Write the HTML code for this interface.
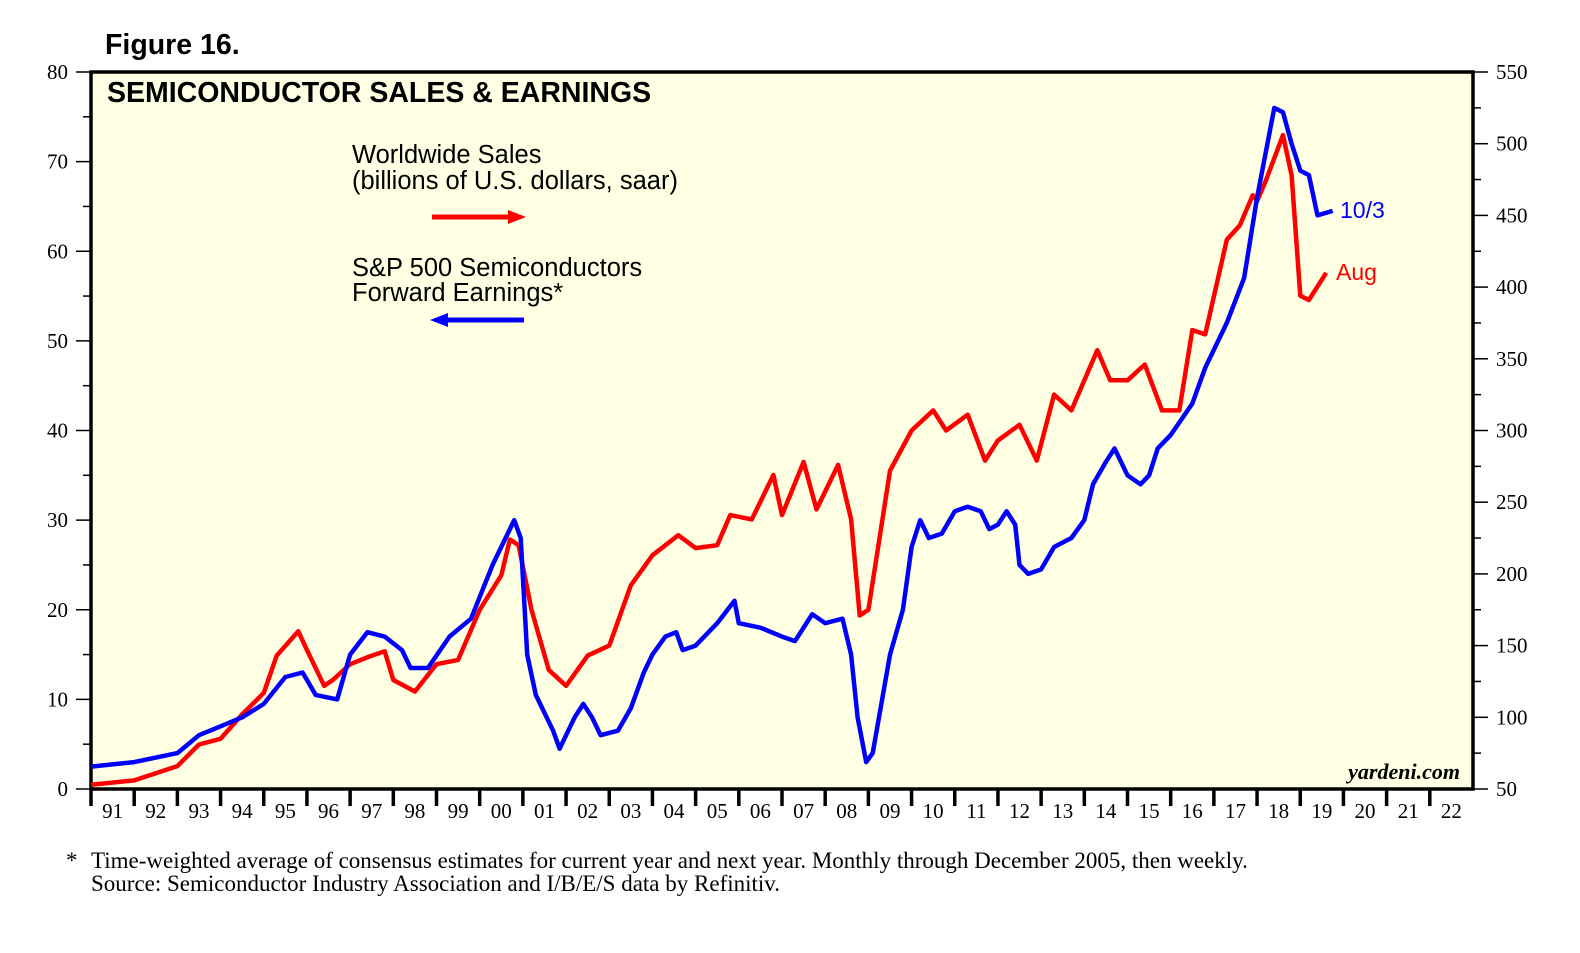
<!DOCTYPE html>
<html><head><meta charset="utf-8"><style>
body{margin:0;background:#fff;}
svg{display:block;}
</style></head><body>
<svg id="chart" width="1580" height="953" xmlns="http://www.w3.org/2000/svg">
<text x="105" y="54" font-family="Liberation Sans, sans-serif" font-weight="bold" font-size="28.5">Figure 16.</text>
<rect x="91" y="72" width="1382" height="717" fill="#ffffe3" stroke="#000" stroke-width="3.5"/>
<g id="axes"></g>
<g id="series"></g>
<text x="107" y="102" font-family="Liberation Sans, sans-serif" font-weight="bold" font-size="28.5">SEMICONDUCTOR SALES &amp; EARNINGS</text>
<g font-family="Liberation Sans, sans-serif" font-size="25.5">
<text x="352" y="163">Worldwide Sales</text>
<text x="352" y="189">(billions of U.S. dollars, saar)</text>
<line x1="432" y1="217" x2="510" y2="217" stroke="#f00" stroke-width="5"/>
<polygon points="508,210 526,217 508,224" fill="#f00"/>
<text x="352" y="276">S&amp;P 500 Semiconductors</text>
<text x="352" y="301">Forward Earnings*</text>
<line x1="446" y1="320" x2="524" y2="320" stroke="#00f" stroke-width="5"/>
<polygon points="448,313 430,320 448,327" fill="#00f"/>
</g>
<text x="1340" y="218" fill="#00f" font-family="Liberation Sans, sans-serif" font-size="23">10/3</text>
<text x="1336" y="280" fill="#f00" font-family="Liberation Sans, sans-serif" font-size="23">Aug</text>
<text x="1460" y="779" text-anchor="end" font-family="Liberation Serif, serif" font-style="italic" font-weight="bold" font-size="22">yardeni.com</text>
<g font-family="Liberation Serif, serif" font-size="23">
<text x="66" y="868">*</text>
<text x="91" y="868">Time-weighted average of consensus estimates for current year and next year. Monthly through December 2005, then weekly.</text>
<text x="91" y="891">Source:  Semiconductor Industry Association and I/B/E/S data by Refinitiv.</text>
</g>
</svg>
<script>
const salesT=[1991.0,1992.0,1993.0,1993.5,1994.0,1994.5,1995.0,1995.3,1995.8,1996.0,1996.4,1996.6,1997.0,1997.5,1997.8,1998.0,1998.5,1999.0,1999.5,2000.0,2000.5,2000.7,2000.9,2001.2,2001.6,2002.0,2002.5,2003.0,2003.5,2004.0,2004.6,2005.0,2005.5,2005.8,2006.3,2006.8,2007.0,2007.5,2007.8,2008.3,2008.6,2008.8,2009.0,2009.5,2010.0,2010.5,2010.8,2011.3,2011.7,2012.0,2012.5,2012.9,2013.3,2013.7,2014.3,2014.6,2015.0,2015.4,2015.8,2016.2,2016.5,2016.8,2017.3,2017.6,2017.9,2018.0,2018.2,2018.6,2018.8,2019.0,2019.2,2019.6];
const salesV=[53,56,66,81,85,102,117,143,160,147,122,126,137,143,146,126,118,137,140,175,199,224,220,175,133,122,143,150,192,213,227,218,220,241,238,269,241,278,245,276,238,171,175,272,300,314,300,311,279,293,304,279,325,314,356,335,335,346,314,314,370,367,433,443,464,460,474,506,478,394,391,410];
const earnT=[1991.0,1992.0,1993.0,1993.5,1994.0,1994.5,1995.0,1995.5,1995.9,1996.2,1996.7,1997.0,1997.4,1997.8,1998.2,1998.4,1998.8,1999.3,1999.8,2000.3,2000.7,2000.8,2000.95,2001.1,2001.3,2001.7,2001.85,2002.2,2002.4,2002.6,2002.8,2003.2,2003.5,2003.8,2004.0,2004.3,2004.55,2004.7,2005.0,2005.5,2005.9,2006.0,2006.5,2007.0,2007.3,2007.7,2008.0,2008.4,2008.6,2008.75,2008.95,2009.1,2009.5,2009.8,2010.0,2010.2,2010.4,2010.7,2011.0,2011.3,2011.6,2011.8,2012.0,2012.2,2012.4,2012.5,2012.7,2013.0,2013.3,2013.7,2014.0,2014.2,2014.5,2014.7,2015.0,2015.3,2015.5,2015.7,2016.0,2016.5,2016.8,2017.3,2017.7,2018.0,2018.2,2018.4,2018.6,2018.8,2019.0,2019.2,2019.4,2019.75];
const earnV=[2.5,3.0,4.0,6.0,7.0,8.0,9.5,12.5,13.0,10.5,10.0,15,17.5,17,15.5,13.5,13.5,17,19,25,29,30,28,15,10.5,6.5,4.5,8,9.5,8,6,6.5,9,13,15,17,17.5,15.5,16,18.5,21,18.5,18,17,16.5,19.5,18.5,19,15,8,3,4,15,20,27,30,28,28.5,31,31.5,31,29,29.5,31,29.5,25,24,24.5,27,28,30,34,36.5,38,35,34,35,38,39.5,43,47,52,57,66,71,76,75.5,72,69,68.5,64,64.5];
const leftTicks=[0,10,20,30,40,50,60,70,80];
const rightTicks=[50,100,150,200,250,300,350,400,450,500,550];
const yearLabels=["91","92","93","94","95","96","97","98","99","00","01","02","03","04","05","06","07","08","09","10","11","12","13","14","15","16","17","18","19","20","21","22"];
const NS="http://www.w3.org/2000/svg";
const X0=91,X1=1473,Y0=789,Y1=72;
const x=t=>X0+(t-1991)*(X1-X0)/32;
const yL=v=>Y0-v*(Y0-Y1)/80;
const yR=v=>Y0-(v-50)*(Y0-Y1)/500;
const axes=document.getElementById('axes'),series=document.getElementById('series');
function mk(tag,attrs,parent){const e=document.createElementNS(NS,tag);for(const k in attrs)e.setAttribute(k,attrs[k]);parent.appendChild(e);return e;}
for(let v=0;v<=80;v+=5){const l=mk('line',{x1:v%10?83:76,x2:X0,y1:yL(v),y2:yL(v),stroke:'#000','stroke-width':1.5},axes);

}
leftTicks.forEach(v=>{const t=mk('text',{x:68,y:yL(v)+7,'text-anchor':'end','font-family':'Liberation Serif, serif','font-size':21},axes);t.textContent=v;

});
for(let v=50;v<=550;v+=25){const l=mk('line',{x1:X1,x2:v%50?X1+8:X1+15,y1:yR(v),y2:yR(v),stroke:'#000','stroke-width':1.5},axes);

}
rightTicks.forEach(v=>{const t=mk('text',{x:1496,y:yR(v)+7,'font-family':'Liberation Serif, serif','font-size':21},axes);t.textContent=v;

});
yearLabels.forEach((s,i)=>{const l=mk('line',{x1:x(1991+i),x2:x(1991+i),y1:Y0,y2:Y0+17,stroke:'#000','stroke-width':3.5},axes);


const t=mk('text',{x:x(1991.5+i),y:818,'text-anchor':'middle','font-family':'Liberation Serif, serif','font-size':21},axes);t.textContent=s;

});
const pr=salesT.map((t,i)=>x(t).toFixed(1)+','+yR(salesV[i]).toFixed(1)).join(' ');
const red=mk('polyline',{points:pr,fill:'none',stroke:'#f00','stroke-width':4.5,'stroke-linejoin':'round'},series);


const pb=earnT.map((t,i)=>x(t).toFixed(1)+','+yL(earnV[i]).toFixed(1)).join(' ');
const blue=mk('polyline',{points:pb,fill:'none',stroke:'#00f','stroke-width':4.5,'stroke-linejoin':'round'},series);


</script>
</body></html>
